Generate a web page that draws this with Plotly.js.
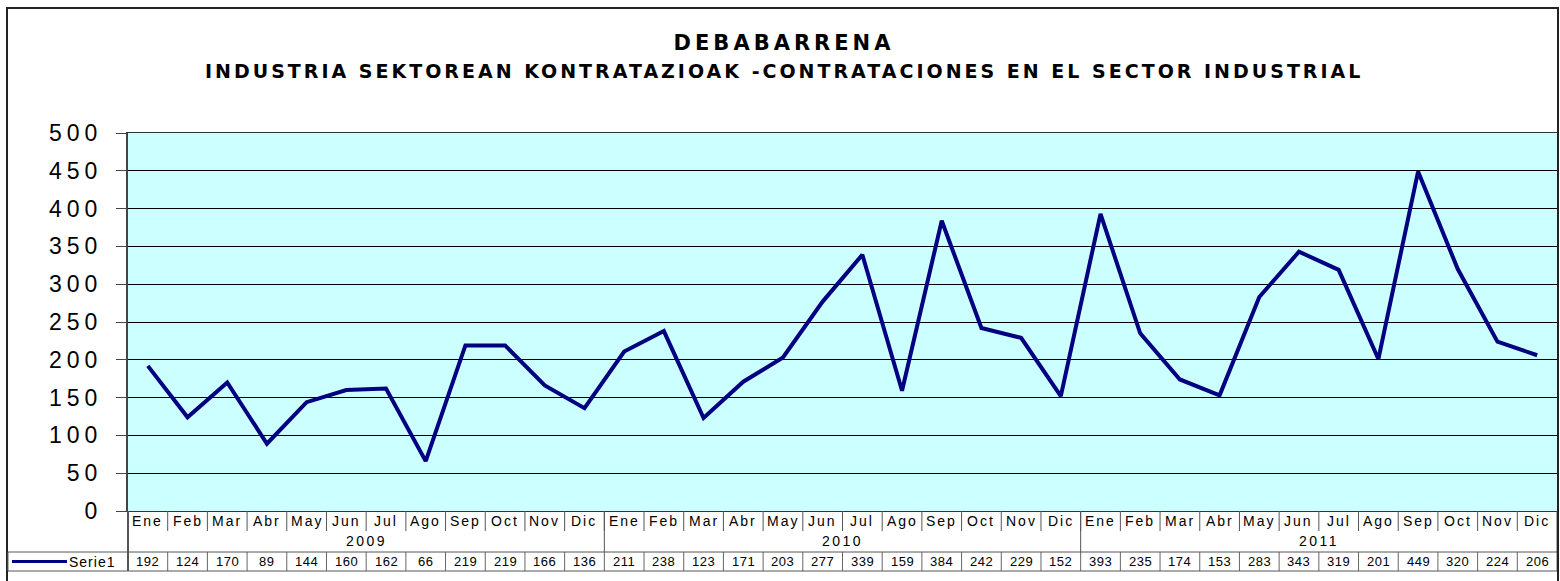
<!DOCTYPE html>
<html>
<head>
<meta charset="utf-8">
<script src="https://cdn.plot.ly/plotly-3.0.1.min.js"></script>
<style>
  html, body { margin: 0; padding: 0; background: #fff; }
  #chart { width: 1560px; height: 581px; }
</style>
</head>
<body>
<div id="chart"></div>
<script>
// ---- Data ----
const years = ['2009', '2010', '2011'];
const months = ['Ene', 'Feb', 'Mar', 'Abr', 'May', 'Jun', 'Jul', 'Ago', 'Sep', 'Oct', 'Nov', 'Dic'];
const values2009 = [192, 124, 170, 89, 144, 160, 162, 66, 219, 219, 166, 136];
const values2010 = [211, 238, 123, 171, 203, 277, 339, 159, 384, 242, 229, 152];
const values2011 = [393, 235, 174, 153, 283, 343, 319, 201, 449, 320, 224, 206];
const seriesName = 'Serie1';
const yTicks = [0, 50, 100, 150, 200, 250, 300, 350, 400, 450, 500];
const titleText = 'DEBABARRENA';
const subtitleText = 'INDUSTRIA SEKTOREAN KONTRATAZIOAK -CONTRATACIONES EN EL SECTOR INDUSTRIAL';

// ---- Build series ----
const yearValues = [values2009, values2010, values2011];
const values = [].concat(...yearValues);
const xIdx = values.map((_, i) => i);
const nCat = values.length;

// ---- Geometry helpers (pixel -> paper) ----
const W = 1560, H = 581;
const L = 128, R = 1557, T = 133, B = 511;
const py = p => (B - p) / (B - T);
const px = p => (p - L) / (R - L);

const navy = '#000080';
const sp = (txt, s) => '<span style="letter-spacing:' + s + 'px">' + txt + '</span>';

const shapes = [];
const annotations = [];

// outer frame
shapes.push({type: 'rect', xref: 'paper', yref: 'paper', x0: px(7), x1: px(1558), y0: py(600), y1: py(8),
  line: {color: '#222', width: 2}, fillcolor: 'rgba(0,0,0,0)'});

// month separators (interior)
for (let i = 0; i < nCat - 1; i++) {
  shapes.push({type: 'line', xref: 'x', yref: 'paper', x0: i + 0.5, x1: i + 0.5, y0: py(511), y1: py(531),
    line: {color: '#555', width: 1}});
}
// year separators
for (let k = 0; k <= years.length; k++) {
  const xb = k * months.length - 0.5;
  shapes.push({type: 'line', xref: 'x', yref: 'paper', x0: xb, x1: xb, y0: py(511), y1: py(552),
    line: {color: '#555', width: 1}});
}
// table verticals
for (let i = 0; i <= nCat; i++) {
  shapes.push({type: 'line', xref: 'x', yref: 'paper', x0: i - 0.5, x1: i - 0.5, y0: py(552), y1: py(571),
    line: {color: '#666', width: 1}});
}
shapes.push({type: 'line', xref: 'paper', yref: 'paper', x0: px(8), x1: px(8), y0: py(552), y1: py(571),
  line: {color: '#666', width: 1}});
// table horizontals
[552, 571].forEach(yy => {
  shapes.push({type: 'line', xref: 'paper', yref: 'paper', x0: px(8), x1: px(1557), y0: py(yy), y1: py(yy),
    line: {color: '#555', width: 1}});
});
// left axis continuation through label area
shapes.push({type: 'line', xref: 'paper', yref: 'paper', x0: 0, x1: 0, y0: 0, y1: py(571),
  line: {color: '#555', width: 2}});
// legend key
shapes.push({type: 'line', xref: 'paper', yref: 'paper', x0: px(12), x1: px(67), y0: py(561.5), y1: py(561.5),
  line: {color: navy, width: 3}});

const lblFont = {family: 'Liberation Sans, Arial, sans-serif', size: 14, color: '#000'};

// month labels
xIdx.forEach(i => {
  annotations.push({xref: 'x', yref: 'paper', x: i, y: py(521), text: sp(months[i % months.length], 2),
    showarrow: false, xanchor: 'center', yanchor: 'middle', font: lblFont});
});
// year labels
years.forEach((yr, k) => {
  annotations.push({xref: 'x', yref: 'paper', x: k * months.length + (months.length - 1) / 2, y: py(541),
    text: sp(yr, 2.5), showarrow: false, xanchor: 'center', yanchor: 'middle', font: lblFont});
});
// table values
values.forEach((v, i) => {
  annotations.push({xref: 'x', yref: 'paper', x: i, y: py(561.5), text: sp(String(v), 0.5),
    showarrow: false, xanchor: 'center', yanchor: 'middle',
    font: {family: 'Liberation Sans, Arial, sans-serif', size: 13, color: '#000'}});
});
// legend text
annotations.push({xref: 'paper', yref: 'paper', x: px(67), y: py(561.5), text: sp(seriesName, 1),
  showarrow: false, xanchor: 'left', yanchor: 'middle', font: lblFont});
// subtitle
annotations.push({xref: 'paper', yref: 'paper', x: px(784), y: py(71), text: sp(subtitleText, 3),
  showarrow: false, xanchor: 'center', yanchor: 'middle',
  font: {family: 'DejaVu Sans, sans-serif', size: 19, weight: 'bold', color: '#000'}});

const trace = {
  type: 'scatter', mode: 'lines', name: seriesName,
  x: xIdx, y: values,
  line: {color: navy, width: 4},
  hoverinfo: 'y', showlegend: false
};

const layout = {
  width: W, height: H,
  margin: {l: L, r: W - R, t: T, b: H - B, pad: 0},
  paper_bgcolor: '#ffffff',
  plot_bgcolor: '#CCFFFF',
  showlegend: false,
  title: {
    text: sp(titleText, 4),
    xref: 'container', yref: 'container', x: 784 / W, y: 1 - 43 / H,
    xanchor: 'center', yanchor: 'middle',
    font: {family: 'DejaVu Sans, sans-serif', size: 21, weight: 'bold', color: '#000'}
  },
  xaxis: {
    range: [-0.5, nCat - 0.5], showticklabels: false, ticks: '', showgrid: false, zeroline: false,
    showline: true, linecolor: '#333', linewidth: 1, mirror: true, fixedrange: true
  },
  yaxis: {
    range: [0, 500], tickmode: 'array', tickvals: yTicks, ticktext: yTicks.map(v => sp(v, 5)),
    ticks: 'outside', ticklen: 10, tickcolor: '#444', tickwidth: 1, ticklabelstandoff: 9,
    tickfont: {family: 'Liberation Sans, Arial, sans-serif', size: 23, color: '#000'},
    showgrid: true, gridcolor: '#000', gridwidth: 1, zeroline: false,
    showline: true, linecolor: '#444', linewidth: 2, mirror: true, fixedrange: true
  },
  shapes: shapes,
  annotations: annotations
};

Plotly.newPlot('chart', [trace], layout, {displayModeBar: false, staticPlot: true});
</script>
</body>
</html>
